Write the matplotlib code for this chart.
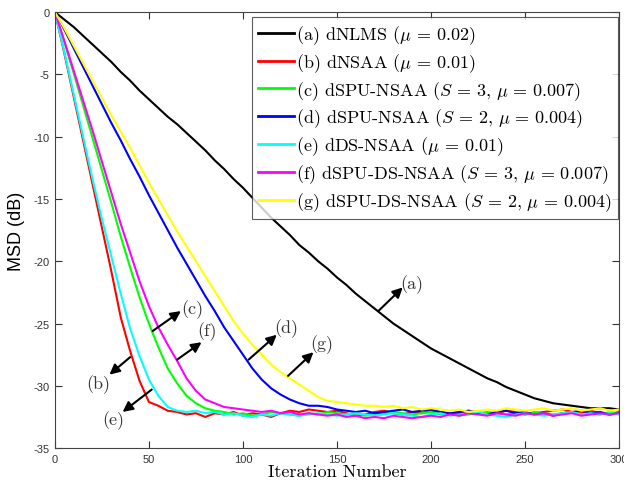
import numpy as np
import matplotlib
matplotlib.use('Agg')
import matplotlib.pyplot as plt

plt.rcParams['mathtext.fontset'] = 'cm'
plt.rcParams['axes.unicode_minus'] = False

# iteration grid (every 5 iterations)
iters = np.arange(0, 301, 5)

msd_a = [0, -0.6, -1.2, -1.9, -2.6, -3.3, -4.0, -4.8, -5.5, -6.3, -7.0, -7.7, -8.4, -9.0, -9.7,
         -10.4, -11.1, -11.9, -12.6, -13.4, -14.1, -14.9, -15.7, -16.5, -17.2, -17.9, -18.7,
         -19.3, -20.0, -20.6, -21.3, -21.9, -22.6, -23.2, -23.8, -24.4, -25.0, -25.5, -26.0,
         -26.5, -27.0, -27.4, -27.8, -28.2, -28.6, -29.0, -29.4, -29.7, -30.1, -30.4, -30.7,
         -31.0, -31.2, -31.4, -31.5, -31.6, -31.7, -31.8, -31.8, -31.8, -31.9]
msd_b = [0, -3.3, -6.8, -10.3, -13.8, -17.3, -20.8, -24.5, -27.2, -29.6, -31.3, -31.6, -32.0,
         -32.1, -32.3, -32.2, -32.5, -32.2, -32.3, -32.1, -32.4, -32.2, -32.3, -32.5, -32.2,
         -32.0, -32.1, -31.9, -32.0, -32.1, -32.0, -32.2, -32.4, -32.3, -32.1, -32.0, -32.2,
         -32.3, -32.1, -32.2, -32.0, -32.1, -32.3, -32.2, -32.0, -32.1, -32.3, -32.2, -32.0,
         -32.1, -32.3, -32.2, -32.1, -32.0, -31.9, -32.1, -32.2, -32.0, -32.2, -32.3, -32.1]
msd_c = [0, -2.4, -4.9, -7.5, -10.1, -12.7, -15.3, -18.0, -20.5, -22.9, -25.0, -26.9, -28.6,
         -29.8, -30.8, -31.4, -31.8, -32.0, -32.1, -32.3, -32.2, -32.4, -32.3, -32.1, -32.2,
         -32.3, -32.4, -32.2, -32.3, -32.1, -32.2, -32.3, -32.2, -32.4, -32.3, -32.2, -32.1,
         -32.2, -32.3, -32.2, -32.1, -32.3, -32.2, -32.4, -32.3, -32.2, -32.1, -32.2, -32.3,
         -32.2, -32.3, -32.1, -32.2, -32.3, -32.2, -32.1, -32.3, -32.2, -32.3, -32.1, -32.2]
msd_d = [0, -1.4, -2.9, -4.4, -5.9, -7.4, -8.9, -10.3, -11.8, -13.2, -14.7, -16.1, -17.5,
         -18.9, -20.2, -21.5, -22.8, -24.0, -25.3, -26.4, -27.5, -28.6, -29.5, -30.2, -30.7,
         -31.1, -31.4, -31.6, -31.6, -31.7, -31.9, -32.0, -32.1, -32.0, -32.2, -32.1, -32.0,
         -31.9, -32.1, -32.0, -31.9, -32.1, -32.2, -32.1, -32.0, -32.2, -32.3, -32.1, -32.0,
         -32.2, -32.1, -32.3, -32.2, -32.4, -32.2, -32.1, -32.0, -32.2, -32.1, -32.3, -32.2]
msd_e = [0, -3.2, -6.6, -10.0, -13.4, -16.6, -19.6, -22.6, -25.4, -27.6, -29.5, -30.8, -31.7,
         -32.0, -32.1, -32.0, -32.2, -32.1, -32.3, -32.2, -32.4, -32.5, -32.3, -32.4, -32.2,
         -32.3, -32.4, -32.3, -32.2, -32.3, -32.4, -32.3, -32.2, -32.3, -32.4, -32.3, -32.2,
         -32.3, -32.4, -32.5, -32.3, -32.2, -32.4, -32.3, -32.2, -32.1, -32.3, -32.4, -32.5,
         -32.3, -32.2, -32.3, -32.4, -32.3, -32.2, -32.1, -32.3, -32.2, -32.3, -32.2, -32.3]
msd_f = [0, -2.3, -4.7, -7.1, -9.5, -12.0, -14.5, -17.0, -19.3, -21.6, -23.6, -25.3, -26.7,
         -28.0, -29.4, -30.4, -31.1, -31.4, -31.7, -31.8, -31.9, -32.0, -32.1, -32.0, -32.2,
         -32.1, -32.3, -32.2, -32.3, -32.4, -32.3, -32.5, -32.4, -32.6, -32.5, -32.6, -32.4,
         -32.5, -32.6, -32.5, -32.4, -32.5, -32.3, -32.4, -32.2, -32.3, -32.4, -32.2, -32.3,
         -32.4, -32.2, -32.3, -32.2, -32.4, -32.3, -32.2, -32.4, -32.3, -32.2, -32.3, -32.2]
msd_g = [0, -1.3, -2.7, -4.1, -5.5, -6.9, -8.3, -9.6, -10.9, -12.3, -13.7, -15.0, -16.3,
         -17.6, -18.8, -20.0, -21.2, -22.4, -23.6, -24.8, -25.8, -26.7, -27.5, -28.3, -28.9,
         -29.4, -29.9, -30.4, -30.9, -31.2, -31.3, -31.4, -31.5, -31.6, -31.6, -31.7, -31.6,
         -31.8, -31.7, -31.9, -31.8, -31.9, -32.0, -31.9, -32.1, -32.0, -31.9, -32.0, -31.8,
         -31.9, -32.0, -31.9, -31.8, -32.0, -31.9, -31.8, -32.0, -31.9, -31.8, -32.0, -31.9]

labels = [r'(a) dNLMS ($\mu\,=\,0.02$)',
          r'(b) dNSAA ($\mu\,=\,0.01$)',
          r'(c) dSPU-NSAA ($S\,=\,3,\,\mu\,=\,0.007$)',
          r'(d) dSPU-NSAA ($S\,=\,2,\,\mu\,=\,0.004$)',
          r'(e) dDS-NSAA ($\mu\,=\,0.01$)',
          r'(f) dSPU-DS-NSAA ($S\,=\,3,\,\mu\,=\,0.007$)',
          r'(g) dSPU-DS-NSAA ($S\,=\,2,\,\mu\,=\,0.004$)']
colors = ['#000000', '#ff0000', '#00ff00', '#0000ff', '#00ffff', '#ff00ff', '#ffff00']
series = [msd_a, msd_b, msd_c, msd_d, msd_e, msd_f, msd_g]

# curve tags: (name, arrow tail, arrow head, text position)
tags = [('(a)', (172, -24.0), (185, -22.1), (190, -21.8)),
        ('(b)', (40, -27.7), (29, -29.1), (23, -29.8)),
        ('(c)', (52, -25.6), (67, -24.0), (73, -23.8)),
        ('(d)', (103, -27.9), (118, -25.9), (123, -25.3)),
        ('(e)', (51.5, -30.3), (36, -32.1), (31, -32.7)),
        ('(f)', (65, -27.9), (78, -26.5), (81, -25.6)),
        ('(g)', (124, -29.2), (137.5, -27.3), (142, -26.6))]

fig = plt.figure(figsize=(6.24, 4.85), dpi=100)
ax = fig.add_axes([0.088, 0.074, 0.904, 0.899])

for y, c, lab in zip(series, colors, labels):
    ax.plot(iters, y, color=c, lw=1.5, label=lab)

for name, tail, head, pos in tags:
    ax.annotate('', xy=head, xytext=tail,
                arrowprops=dict(arrowstyle='-|>', color='k', lw=1.5, mutation_scale=15,
                                shrinkA=0, shrinkB=0))
    ax.text(pos[0], pos[1], name, family='cmr10', fontsize=13, color='#333333',
            ha='center', va='center')

ax.set_xlim(0, 300)
ax.set_ylim(-35, 0)
ax.set_xticks([0, 50, 100, 150, 200, 250, 300])
ax.set_yticks([0, -5, -10, -15, -20, -25, -30, -35])
ax.tick_params(direction='in', top=True, right=True, length=5, width=0.8,
               labelsize=8, colors='#333333', pad=4)
for lab in ax.get_xticklabels() + ax.get_yticklabels():
    lab.set_family('Liberation Sans')
for sp in ax.spines.values():
    sp.set_color('#444444')
    sp.set_linewidth(0.8)

ax.set_xlabel('Iteration Number', family='cmr10', fontsize=13, labelpad=0)
ax.set_ylabel('MSD (dB)', family='Liberation Sans', fontsize=13, labelpad=6)

leg = ax.legend(loc='upper right', prop={'family': 'cmr10', 'size': 13},
                frameon=True, fancybox=False, edgecolor='#333333', handlelength=2.0,
                handletextpad=0.1, labelspacing=0.28, borderpad=0.35, borderaxespad=0,
                bbox_to_anchor=(618 / 624, 1 - 18 / 485), bbox_transform=fig.transFigure)
leg.get_frame().set_linewidth(0.8)
for line in leg.get_lines():
    line.set_linewidth(2.0)

fig.savefig('out.png', dpi=100)
